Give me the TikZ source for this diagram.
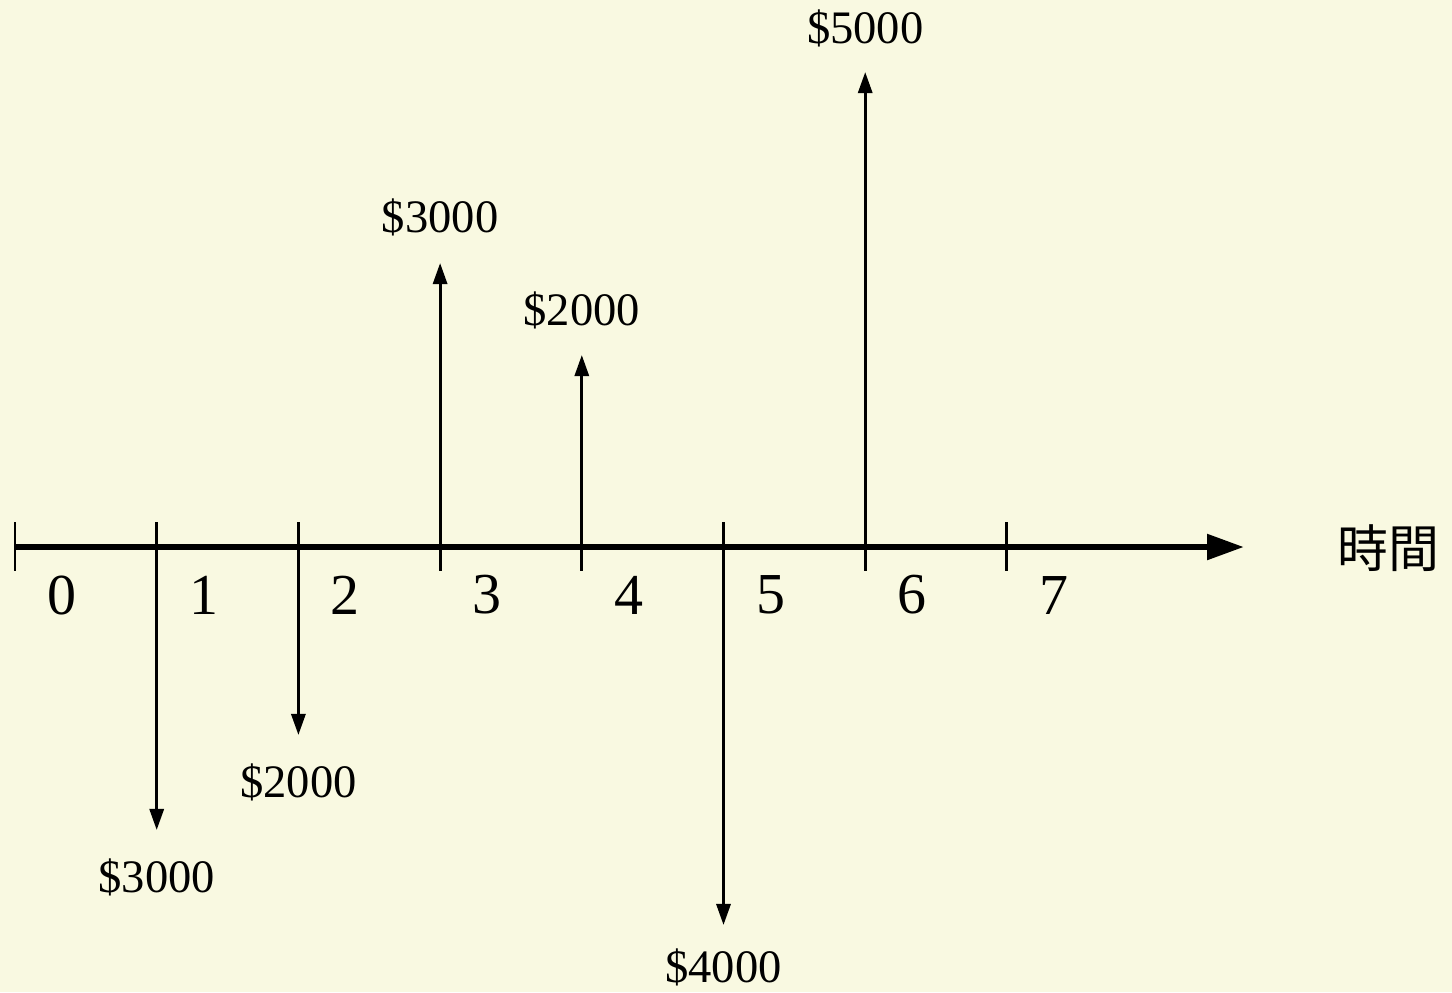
\documentclass[tikz,border=0pt]{standalone}
\usepackage{fontspec}
\setmainfont{Liberation Serif}
\newfontfamily\cjkfont{Noto Sans CJK TC}
\usetikzlibrary{arrows.meta}
\definecolor{cfbg}{HTML}{F9F9E1}
\definecolor{cfink}{HTML}{000000}

\begin{document}
\begin{tikzpicture}[x=0.02cm,y=-0.02cm,
  cfamt/.style={font=\fontsize{26.5}{31}\selectfont,text=cfink},
  cfnum/.style={font=\fontsize{33}{40}\selectfont,text=cfink},
  cfflow/.style={draw=cfink,line width=1.7pt,-{Triangle[length=12pt,width=8pt]}}]
  \path[use as bounding box,fill=cfbg] (0,0) rectangle (1452,992);
  \coordinate (o) at (14,547);
  \coordinate (e) at (1244,547);
  \draw[cfink,line width=3.6pt,-{Triangle[length=21pt,width=14pt]}] (o) -- (e);
  \node[font=\cjkfont\fontsize{29}{34}\selectfont] (time) at (1388,548) {時間};
  \foreach \t in {0,...,7}{
    \coordinate (t\t) at (15+141.7*\t,547);
    \draw[cfink,line width=1.7pt] (15+141.7*\t,522) -- (15+141.7*\t,571);
    \node[cfnum] (n\t) at (62+141.7*\t,595) {\t};
  }
  \foreach \t/\tip/\amt/\lab in {1/830/3000/877,2/735/2000/782,5/925/4000/967,3/263/3000/217,4/355/2000/310,6/72/5000/28}{
    \coordinate (f\t) at (15+141.7*\t,\tip);
    \node[cfamt] (a\t) at (15+141.7*\t,\lab) {\$\amt};
    \draw[cfflow] (t\t) -- (f\t);
  }
\end{tikzpicture}
\end{document}
